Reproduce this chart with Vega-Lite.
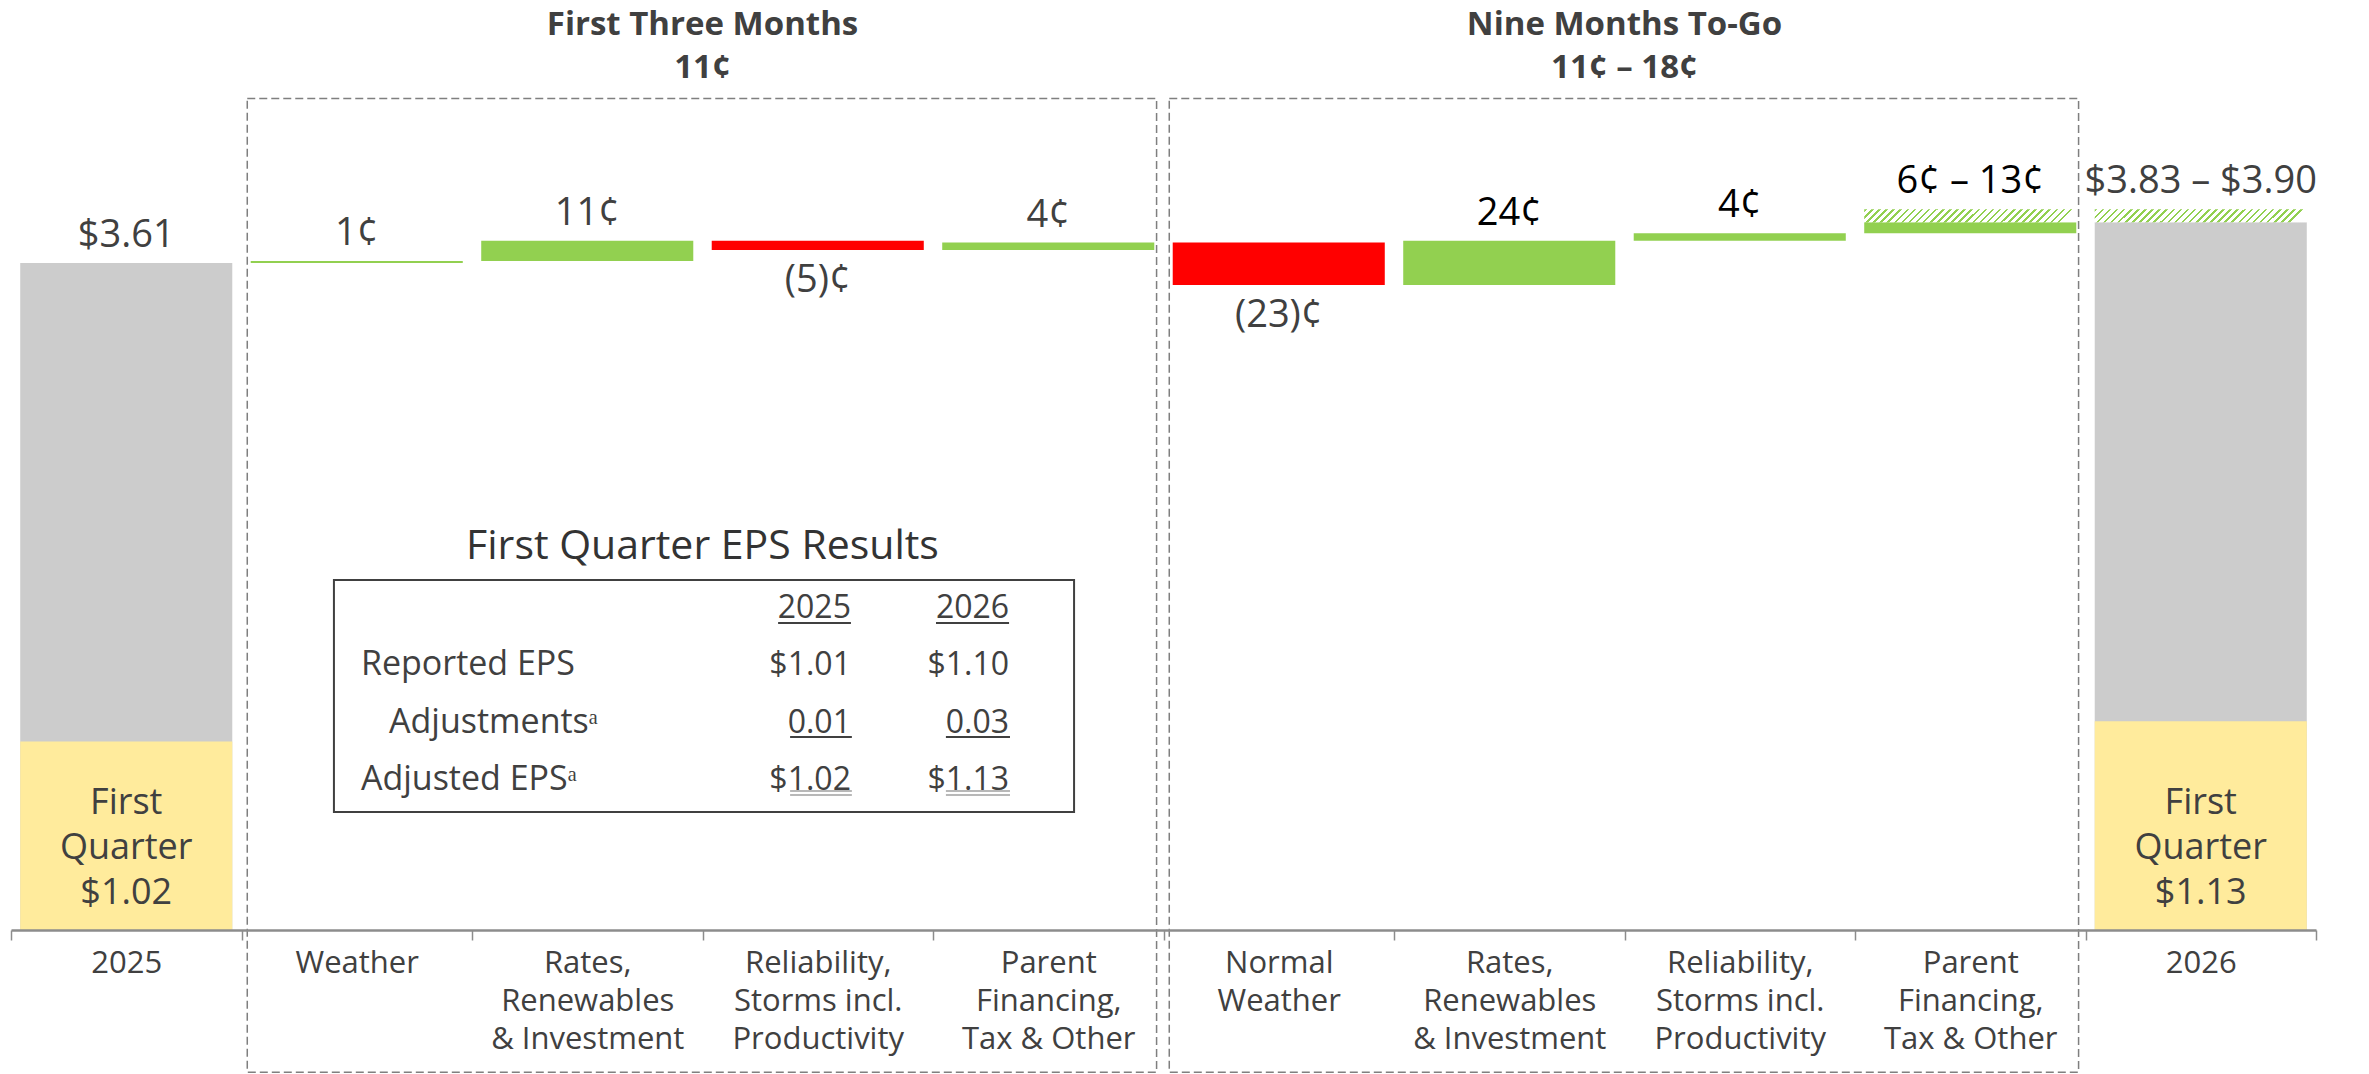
{
  "$schema": "https://vega.github.io/schema/vega-lite/v6.json",
  "width": 2305,
  "height": 930,
  "autosize": {"type": "none"},
  "padding": {"left": 11, "right": 53, "top": 0, "bottom": 144},
  "background": "white",
  "config": {"view": {"stroke": null}, "font": "Open Sans", "axisY": {"disable": true}},
  "datasets": {
    "steps": [
      {"key": "0 2025", "lo": 0, "hi": 3.61, "kind": "Total", "label": "$3.61"},
      {"key": "0 2025", "lo": 0, "hi": 1.02, "kind": "Q1", "label": "First|Quarter|$1.02"},
      {"key": "1 Weather", "lo": 3.61, "hi": 3.62, "kind": "Increase", "label": "1¢"},
      {"key": "2 Rates,|Renewables|& Investment", "lo": 3.62, "hi": 3.73, "kind": "Increase", "label": "11¢"},
      {"key": "3 Reliability,|Storms incl.|Productivity", "lo": 3.68, "hi": 3.73, "kind": "Decrease", "label": "(5)¢"},
      {"key": "4 Parent|Financing,|Tax & Other", "lo": 3.68, "hi": 3.72, "kind": "Increase", "label": "4¢"},
      {"key": "5 Normal|Weather", "lo": 3.49, "hi": 3.72, "kind": "Decrease", "label": "(23)¢"},
      {"key": "6 Rates,|Renewables|& Investment", "lo": 3.49, "hi": 3.73, "kind": "Increase", "label": "24¢"},
      {"key": "7 Reliability,|Storms incl.|Productivity", "lo": 3.73, "hi": 3.77, "kind": "Increase", "label": "4¢"},
      {"key": "8 Parent|Financing,|Tax & Other", "lo": 3.77, "hi": 3.83, "kind": "Increase", "label": null},
      {"key": "8 Parent|Financing,|Tax & Other", "lo": 3.83, "hi": 3.90, "kind": "Range", "label": "6¢ – 13¢"},
      {"key": "9 2026", "lo": 0, "hi": 3.83, "kind": "Total", "label": null},
      {"key": "9 2026", "lo": 0, "hi": 1.13, "kind": "Q1", "label": "First|Quarter|$1.13"},
      {"key": "9 2026", "lo": 3.83, "hi": 3.90, "kind": "Range", "label": "$3.83 – $3.90"}
    ],
    "sections": [
      {"section": "First Three Months", "sub": "11¢", "from": "1 Weather", "to": "4 Parent|Financing,|Tax & Other", "mid": "3 Reliability,|Storms incl.|Productivity"},
      {"section": "Nine Months To-Go", "sub": "11¢ – 18¢", "from": "5 Normal|Weather", "to": "8 Parent|Financing,|Tax & Other", "mid": "7 Reliability,|Storms incl.|Productivity"}
    ],
    "eps": [
      {
        "anchorL": "1 Weather", "anchorM": "3 Reliability,|Storms incl.|Productivity", "anchorR": "4 Parent|Financing,|Tax & Other",
        "title": "First Quarter EPS Results",
        "labels": "Reported EPS|Adjusted EPSᵃ",
        "indented": "Adjustmentsᵃ",
        "c2025": "2025|$1.01|0.01|$1.02",
        "c2026": "2026|$1.10|0.03|$1.13"
      }
    ]
  },
  "layer": [
    {
      "data": {"name": "sections"},
      "mark": {"type": "rect", "fill": "white", "fillOpacity": 0, "stroke": "#7f7f7f", "strokeWidth": 1.5, "strokeDash": [8, 4]},
      "encoding": {
        "x": {"field": "from", "type": "nominal", "bandPosition": 0.025, "title": null},
        "x2": {"field": "to", "bandPosition": 0.97},
        "y": {"datum": 4.5, "type": "quantitative"},
        "y2": {"datum": -0.77}
      }
    },
    {
      "data": {"name": "steps"},
      "transform": [{"filter": "datum.kind != 'Range'"}],
      "mark": {"type": "bar", "width": {"band": 0.92}},
      "encoding": {
        "x": {
          "field": "key", "type": "nominal", "title": null,
          "scale": {"paddingInner": 0, "paddingOuter": 0},
          "axis": {
            "title": null, "labelExpr": "split(substring(datum.label, 2), '|')",
            "tickBand": "extent", "tickSize": 10, "tickColor": "#8c8c8c", "tickWidth": 1.5,
            "domainColor": "#8c8c8c", "domainWidth": 2.5, "labelFontSize": 31, "labelLineHeight": 38,
            "labelColor": "#404040", "labelFont": "Open Sans", "labelPadding": 23, "labelAngle": 0,
            "labelAlign": "center", "labelOverlap": false, "labelLimit": 0, "grid": false
          }
        },
        "y": {"field": "lo", "type": "quantitative", "scale": {"domain": [0, 5.0325], "nice": false, "zero": false}, "axis": null},
        "y2": {"field": "hi"},
        "color": {
          "field": "kind", "type": "nominal", "legend": null,
          "scale": {"domain": ["Total", "Q1", "Increase", "Decrease"], "range": ["#cccccc", "#ffeb9c", "#92d050", "#ff0000"]}
        }
      }
    },
    {
      "data": {"name": "steps"},
      "transform": [{"filter": "datum.kind == 'Range'"}],
      "mark": {
        "type": "bar", "width": {"band": 0.92},
        "fill": {
          "gradient": "linear", "x1": 0, "y1": 0, "x2": 1, "y2": 0.0613,
          "stops": [
            {"offset": 0, "color": "#92d050"}, {"offset": 0.012, "color": "#92d050"}, {"offset": 0.012, "color": "#ffffff"}, {"offset": 0.0333, "color": "#ffffff"},
            {"offset": 0.0333, "color": "#92d050"}, {"offset": 0.0453, "color": "#92d050"}, {"offset": 0.0453, "color": "#ffffff"}, {"offset": 0.0667, "color": "#ffffff"},
            {"offset": 0.0667, "color": "#92d050"}, {"offset": 0.0787, "color": "#92d050"}, {"offset": 0.0787, "color": "#ffffff"}, {"offset": 0.1, "color": "#ffffff"},
            {"offset": 0.1, "color": "#92d050"}, {"offset": 0.112, "color": "#92d050"}, {"offset": 0.112, "color": "#ffffff"}, {"offset": 0.1333, "color": "#ffffff"},
            {"offset": 0.1333, "color": "#92d050"}, {"offset": 0.1453, "color": "#92d050"}, {"offset": 0.1453, "color": "#ffffff"}, {"offset": 0.1667, "color": "#ffffff"},
            {"offset": 0.1667, "color": "#92d050"}, {"offset": 0.1787, "color": "#92d050"}, {"offset": 0.1787, "color": "#ffffff"}, {"offset": 0.2, "color": "#ffffff"},
            {"offset": 0.2, "color": "#92d050"}, {"offset": 0.212, "color": "#92d050"}, {"offset": 0.212, "color": "#ffffff"}, {"offset": 0.2333, "color": "#ffffff"},
            {"offset": 0.2333, "color": "#92d050"}, {"offset": 0.2453, "color": "#92d050"}, {"offset": 0.2453, "color": "#ffffff"}, {"offset": 0.2667, "color": "#ffffff"},
            {"offset": 0.2667, "color": "#92d050"}, {"offset": 0.2787, "color": "#92d050"}, {"offset": 0.2787, "color": "#ffffff"}, {"offset": 0.3, "color": "#ffffff"},
            {"offset": 0.3, "color": "#92d050"}, {"offset": 0.312, "color": "#92d050"}, {"offset": 0.312, "color": "#ffffff"}, {"offset": 0.3333, "color": "#ffffff"},
            {"offset": 0.3333, "color": "#92d050"}, {"offset": 0.3453, "color": "#92d050"}, {"offset": 0.3453, "color": "#ffffff"}, {"offset": 0.3667, "color": "#ffffff"},
            {"offset": 0.3667, "color": "#92d050"}, {"offset": 0.3787, "color": "#92d050"}, {"offset": 0.3787, "color": "#ffffff"}, {"offset": 0.4, "color": "#ffffff"},
            {"offset": 0.4, "color": "#92d050"}, {"offset": 0.412, "color": "#92d050"}, {"offset": 0.412, "color": "#ffffff"}, {"offset": 0.4333, "color": "#ffffff"},
            {"offset": 0.4333, "color": "#92d050"}, {"offset": 0.4453, "color": "#92d050"}, {"offset": 0.4453, "color": "#ffffff"}, {"offset": 0.4667, "color": "#ffffff"},
            {"offset": 0.4667, "color": "#92d050"}, {"offset": 0.4787, "color": "#92d050"}, {"offset": 0.4787, "color": "#ffffff"}, {"offset": 0.5, "color": "#ffffff"},
            {"offset": 0.5, "color": "#92d050"}, {"offset": 0.512, "color": "#92d050"}, {"offset": 0.512, "color": "#ffffff"}, {"offset": 0.5333, "color": "#ffffff"},
            {"offset": 0.5333, "color": "#92d050"}, {"offset": 0.5453, "color": "#92d050"}, {"offset": 0.5453, "color": "#ffffff"}, {"offset": 0.5667, "color": "#ffffff"},
            {"offset": 0.5667, "color": "#92d050"}, {"offset": 0.5787, "color": "#92d050"}, {"offset": 0.5787, "color": "#ffffff"}, {"offset": 0.6, "color": "#ffffff"},
            {"offset": 0.6, "color": "#92d050"}, {"offset": 0.612, "color": "#92d050"}, {"offset": 0.612, "color": "#ffffff"}, {"offset": 0.6333, "color": "#ffffff"},
            {"offset": 0.6333, "color": "#92d050"}, {"offset": 0.6453, "color": "#92d050"}, {"offset": 0.6453, "color": "#ffffff"}, {"offset": 0.6667, "color": "#ffffff"},
            {"offset": 0.6667, "color": "#92d050"}, {"offset": 0.6787, "color": "#92d050"}, {"offset": 0.6787, "color": "#ffffff"}, {"offset": 0.7, "color": "#ffffff"},
            {"offset": 0.7, "color": "#92d050"}, {"offset": 0.712, "color": "#92d050"}, {"offset": 0.712, "color": "#ffffff"}, {"offset": 0.7333, "color": "#ffffff"},
            {"offset": 0.7333, "color": "#92d050"}, {"offset": 0.7453, "color": "#92d050"}, {"offset": 0.7453, "color": "#ffffff"}, {"offset": 0.7667, "color": "#ffffff"},
            {"offset": 0.7667, "color": "#92d050"}, {"offset": 0.7787, "color": "#92d050"}, {"offset": 0.7787, "color": "#ffffff"}, {"offset": 0.8, "color": "#ffffff"},
            {"offset": 0.8, "color": "#92d050"}, {"offset": 0.812, "color": "#92d050"}, {"offset": 0.812, "color": "#ffffff"}, {"offset": 0.8333, "color": "#ffffff"},
            {"offset": 0.8333, "color": "#92d050"}, {"offset": 0.8453, "color": "#92d050"}, {"offset": 0.8453, "color": "#ffffff"}, {"offset": 0.8667, "color": "#ffffff"},
            {"offset": 0.8667, "color": "#92d050"}, {"offset": 0.8787, "color": "#92d050"}, {"offset": 0.8787, "color": "#ffffff"}, {"offset": 0.9, "color": "#ffffff"},
            {"offset": 0.9, "color": "#92d050"}, {"offset": 0.912, "color": "#92d050"}, {"offset": 0.912, "color": "#ffffff"}, {"offset": 0.9333, "color": "#ffffff"},
            {"offset": 0.9333, "color": "#92d050"}, {"offset": 0.9453, "color": "#92d050"}, {"offset": 0.9453, "color": "#ffffff"}, {"offset": 0.9667, "color": "#ffffff"},
            {"offset": 0.9667, "color": "#92d050"}, {"offset": 0.9787, "color": "#92d050"}, {"offset": 0.9787, "color": "#ffffff"}, {"offset": 1, "color": "#ffffff"}
          ]
        }
      },
      "encoding": {
        "x": {"field": "key", "type": "nominal", "title": null},
        "y": {"field": "lo", "type": "quantitative"},
        "y2": {"field": "hi"}
      }
    },
    {
      "data": {"name": "steps"},
      "transform": [{"filter": "datum.label != null && (datum.kind == 'Total' || datum.kind == 'Increase' || datum.kind == 'Range')"}],
      "mark": {"type": "text", "fontSize": 38, "baseline": "alphabetic", "align": "center", "dy": -16},
      "encoding": {
        "x": {"field": "key", "type": "nominal", "title": null},
        "y": {"field": "hi", "type": "quantitative"},
        "text": {"field": "label"},
        "color": {"condition": {"test": "datum.key >= '6' && datum.key < '9'", "value": "#000000"}, "value": "#404040"}
      }
    },
    {
      "data": {"name": "steps"},
      "transform": [{"filter": "datum.kind == 'Decrease'"}],
      "mark": {"type": "text", "fontSize": 38, "baseline": "top", "align": "center", "dy": 12, "color": "#404040"},
      "encoding": {
        "x": {"field": "key", "type": "nominal", "title": null},
        "y": {"field": "lo", "type": "quantitative"},
        "text": {"field": "label"}
      }
    },
    {
      "data": {"name": "steps"},
      "transform": [{"filter": "datum.kind == 'Q1'"}],
      "mark": {"type": "text", "fontSize": 36, "baseline": "bottom", "align": "center", "dy": -108, "lineBreak": "|", "lineHeight": 45, "color": "#404040"},
      "encoding": {
        "x": {"field": "key", "type": "nominal", "title": null},
        "y": {"field": "lo", "type": "quantitative"},
        "text": {"field": "label"}
      }
    },
    {
      "data": {"name": "sections"},
      "mark": {"type": "text", "fontSize": 33, "fontWeight": "bold", "baseline": "middle", "align": "center", "color": "#404040"},
      "encoding": {
        "x": {"field": "mid", "type": "nominal", "bandPosition": 0, "title": null},
        "y": {"datum": 4.897, "type": "quantitative"},
        "text": {"field": "section"}
      }
    },
    {
      "data": {"name": "sections"},
      "mark": {"type": "text", "fontSize": 33, "fontWeight": "bold", "baseline": "middle", "align": "center", "color": "#404040"},
      "encoding": {
        "x": {"field": "mid", "type": "nominal", "bandPosition": 0, "title": null},
        "y": {"datum": 4.664, "type": "quantitative"},
        "text": {"field": "sub"}
      }
    },
    {
      "data": {"name": "eps"},
      "mark": {"type": "rect", "fill": "white", "fillOpacity": 0, "stroke": "#404040", "strokeWidth": 2},
      "encoding": {
        "x": {"field": "anchorL", "type": "nominal", "bandPosition": 0.401, "title": null},
        "x2": {"field": "anchorR", "bandPosition": 0.612},
        "y": {"datum": 1.894, "type": "quantitative"},
        "y2": {"datum": 0.6385}
      }
    },
    {
      "data": {"name": "eps"},
      "mark": {"type": "text", "fontSize": 41, "baseline": "middle", "align": "center", "color": "#333333"},
      "encoding": {
        "x": {"field": "anchorM", "type": "nominal", "bandPosition": 0, "title": null},
        "y": {"datum": 2.0725, "type": "quantitative"},
        "text": {"field": "title"}
      }
    },
    {
      "data": {"name": "eps"},
      "mark": {"type": "text", "fontSize": 34, "baseline": "middle", "align": "left", "lineBreak": "|", "lineHeight": 114.6, "color": "#404040"},
      "encoding": {
        "x": {"field": "anchorL", "type": "nominal", "bandPosition": 0.518, "title": null},
        "y": {"datum": 1.4324, "type": "quantitative"},
        "text": {"field": "labels"}
      }
    },
    {
      "data": {"name": "eps"},
      "mark": {"type": "text", "fontSize": 34, "baseline": "middle", "align": "left", "color": "#404040"},
      "encoding": {
        "x": {"field": "anchorL", "type": "nominal", "bandPosition": 0.64, "title": null},
        "y": {"datum": 1.1223, "type": "quantitative"},
        "text": {"field": "indented"}
      }
    },
    {
      "data": {"name": "eps"},
      "mark": {"type": "text", "fontSize": 32, "baseline": "middle", "align": "right", "lineBreak": "|", "lineHeight": 57.3, "color": "#404040"},
      "encoding": {
        "x": {"field": "anchorM", "type": "nominal", "bandPosition": 0.644, "title": null},
        "y": {"datum": 1.7424, "type": "quantitative"},
        "text": {"field": "c2025"}
      }
    },
    {
      "data": {"name": "eps"},
      "mark": {"type": "text", "fontSize": 32, "baseline": "middle", "align": "right", "lineBreak": "|", "lineHeight": 57.3, "color": "#404040"},
      "encoding": {
        "x": {"field": "anchorR", "type": "nominal", "bandPosition": 0.33, "title": null},
        "y": {"datum": 1.7424, "type": "quantitative"},
        "text": {"field": "c2026"}
      }
    },
    {
      "data": {"name": "eps"},
      "mark": {"type": "rule", "color": "#404040", "strokeWidth": 2},
      "encoding": {
        "x": {"field": "anchorM", "type": "nominal", "bandPosition": 0.328, "title": null},
        "x2": {"field": "anchorM", "bandPosition": 0.644},
        "y": {"datum": 1.6613, "type": "quantitative"}
      }
    },
    {
      "data": {"name": "eps"},
      "mark": {"type": "rule", "color": "#404040", "strokeWidth": 2},
      "encoding": {
        "x": {"field": "anchorR", "type": "nominal", "bandPosition": 0.013, "title": null},
        "x2": {"field": "anchorR", "bandPosition": 0.33},
        "y": {"datum": 1.6613, "type": "quantitative"}
      }
    },
    {
      "data": {"name": "eps"},
      "mark": {"type": "rule", "color": "#404040", "strokeWidth": 2},
      "encoding": {
        "x": {"field": "anchorM", "type": "nominal", "bandPosition": 0.38, "title": null},
        "x2": {"field": "anchorM", "bandPosition": 0.648},
        "y": {"datum": 1.0444, "type": "quantitative"}
      }
    },
    {
      "data": {"name": "eps"},
      "mark": {"type": "rule", "color": "#404040", "strokeWidth": 2},
      "encoding": {
        "x": {"field": "anchorR", "type": "nominal", "bandPosition": 0.056, "title": null},
        "x2": {"field": "anchorR", "bandPosition": 0.334},
        "y": {"datum": 1.0444, "type": "quantitative"}
      }
    },
    {
      "data": {"name": "eps"},
      "mark": {"type": "rule", "color": "#a0a0a0", "strokeWidth": 1.5},
      "encoding": {
        "x": {"field": "anchorM", "type": "nominal", "bandPosition": 0.38, "title": null},
        "x2": {"field": "anchorM", "bandPosition": 0.648},
        "y": {"datum": 0.7522, "type": "quantitative"}
      }
    },
    {
      "data": {"name": "eps"},
      "mark": {"type": "rule", "color": "#a0a0a0", "strokeWidth": 1.5},
      "encoding": {
        "x": {"field": "anchorM", "type": "nominal", "bandPosition": 0.38, "title": null},
        "x2": {"field": "anchorM", "bandPosition": 0.648},
        "y": {"datum": 0.7305, "type": "quantitative"}
      }
    },
    {
      "data": {"name": "eps"},
      "mark": {"type": "rule", "color": "#a0a0a0", "strokeWidth": 1.5},
      "encoding": {
        "x": {"field": "anchorR", "type": "nominal", "bandPosition": 0.056, "title": null},
        "x2": {"field": "anchorR", "bandPosition": 0.334},
        "y": {"datum": 0.7522, "type": "quantitative"}
      }
    },
    {
      "data": {"name": "eps"},
      "mark": {"type": "rule", "color": "#a0a0a0", "strokeWidth": 1.5},
      "encoding": {
        "x": {"field": "anchorR", "type": "nominal", "bandPosition": 0.056, "title": null},
        "x2": {"field": "anchorR", "bandPosition": 0.334},
        "y": {"datum": 0.7305, "type": "quantitative"}
      }
    }
  ]
}
